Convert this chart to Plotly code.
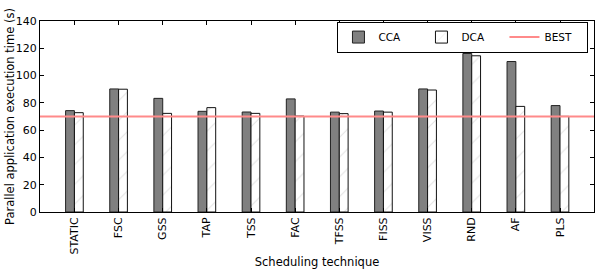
import plotly.graph_objects as go

categories = ["STATIC", "FSC", "GSS", "TAP", "TSS", "FAC", "TFSS", "FISS", "VISS", "RND", "AF", "PLS"]
cca = [74.3, 90.2, 83.3, 73.8, 73.3, 82.9, 73.2, 74.0, 90.2, 116.2, 110.3, 78.0]
dca = [72.8, 90.0, 72.3, 76.5, 72.3, 70.3, 72.1, 73.2, 89.4, 114.5, 77.4, 70.1]
best = 70
yticks = [0, 20, 40, 60, 80, 100, 120, 140]
y_title = "Parallel application execution time (s)"
x_title = "Scheduling technique"

font = "DejaVu Sans"
fig = go.Figure()
fig.add_trace(go.Bar(
    x=categories, y=cca, name="CCA",
    marker=dict(color="#808080", line=dict(color="#222222", width=1)),
))
fig.add_trace(go.Bar(
    x=categories, y=dca, name="DCA",
    marker=dict(color="white", line=dict(color="#111111", width=1),
                pattern=dict(shape="/", fgcolor="#c8c8c8", bgcolor="white", size=14, solidity=0.08)),
))
fig.add_trace(go.Scatter(
    x=[None], y=[None], mode="lines", name="BEST",
    line=dict(color="#ff8a8a", width=2),
))
fig.add_hline(y=best, line=dict(color="#ff8a8a", width=2), layer="above")

fig.update_layout(
    width=598, height=269,
    margin=dict(l=40, r=4, t=21, b=57, autoexpand=False),
    plot_bgcolor="white", paper_bgcolor="white",
    font=dict(family=font, size=11, color="black"),
    barmode="group", bargap=0.6, bargroupgap=0,
    showlegend=True,
    legend=dict(orientation="h", x=0.99, y=0.997, xanchor="right", yanchor="top",
                bordercolor="black", borderwidth=1, bgcolor="white",
                font=dict(size=10.5), entrywidth=38, entrywidthmode="pixels",
                itemwidth=30, traceorder="normal"),
    annotations=[dict(text=y_title, xref="paper", yref="paper", x=-0.055, y=0.5,
                      xanchor="center", yanchor="middle", textangle=-90, showarrow=False,
                      font=dict(size=11.5))],
)
fig.update_xaxes(
    range=[-0.78, 11.77], tickangle=-90, automargin=True,
    showline=True, linecolor="black", linewidth=1, mirror="ticks",
    ticks="inside", ticklen=4, tickcolor="black",
    title=dict(text=x_title, font=dict(size=11.5), standoff=4),
    showgrid=False, tickfont=dict(size=11),
)
fig.update_yaxes(
    range=[0, 140], tickvals=yticks, automargin=False,
    showline=True, linecolor="black", linewidth=1, mirror="ticks",
    ticks="inside", ticklen=4, tickcolor="black",
    showgrid=False, zeroline=False, tickfont=dict(size=11),
)
fig.write_html("out.html", config={"displayModeBar": False},
               post_script="document.body.style.margin='0';document.body.style.overflow='hidden';")
